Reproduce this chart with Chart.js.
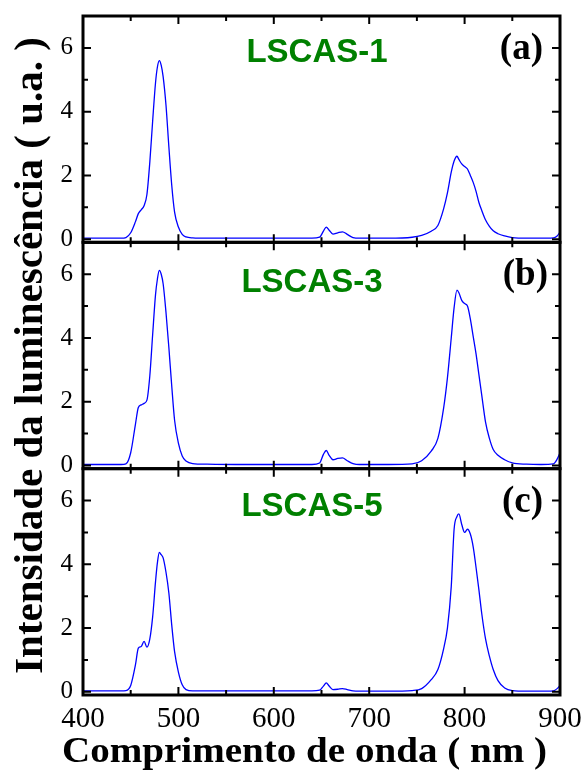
<!DOCTYPE html>
<html>
<head>
<meta charset="utf-8">
<script src="https://cdn.jsdelivr.net/npm/chart.js@4/dist/chart.umd.min.js"></script>
<style>
  html, body { margin: 0; padding: 0; background: #fff; }
  canvas { display: block; }
</style>
</head>
<body>
<canvas id="spectra" width="584" height="771"></canvas>
<script>
// wavelength (nm) shared by the three spectra
const wavelength = [400, 420, 440, 445, 450, 455, 458, 461, 464, 467,
  470, 473, 476, 478, 480, 482, 484, 487, 490, 493,
  496, 500, 504, 508, 515, 530, 560, 600, 640, 648,
  652, 655, 658, 662, 667, 672, 677, 683, 690, 720,
  745, 755, 765, 772, 778, 782, 786, 789, 792, 794,
  797, 800, 803, 806, 809, 812, 815, 818, 822, 826,
  830, 835, 842, 850, 865, 880, 893, 897, 900];

// luminescence intensity (a.u.)
const lscas1 = [0.03, 0.03, 0.03, 0.05, 0.2, 0.55, 0.8, 0.92, 1.05, 1.4,
  2.4, 3.7, 4.9, 5.4, 5.6, 5.45, 5.1, 4.2, 2.9, 1.7,
  0.85, 0.38, 0.15, 0.07, 0.04, 0.03, 0.03, 0.03, 0.03, 0.06,
  0.25, 0.38, 0.28, 0.16, 0.2, 0.23, 0.15, 0.05, 0.03, 0.03,
  0.06, 0.12, 0.25, 0.43, 0.95, 1.45, 2.1, 2.45, 2.6, 2.5,
  2.36, 2.28, 2.2, 2.0, 1.78, 1.5, 1.15, 0.9, 0.6, 0.4,
  0.26, 0.17, 0.1, 0.05, 0.03, 0.03, 0.04, 0.1, 0.22];

const lscas3 = [0.03, 0.03, 0.03, 0.05, 0.4, 1.3, 1.82, 1.9, 1.95, 2.05,
  2.8, 4.1, 5.35, 5.85, 6.12, 6.0, 5.7, 4.8, 3.7, 2.5,
  1.42, 0.7, 0.3, 0.14, 0.06, 0.04, 0.03, 0.03, 0.03, 0.08,
  0.35, 0.47, 0.32, 0.18, 0.22, 0.24, 0.15, 0.06, 0.03, 0.03,
  0.05, 0.15, 0.45, 0.85, 1.8, 2.75, 4.0, 4.95, 5.5, 5.42,
  5.18, 5.08, 5.0, 4.6, 4.05, 3.5, 2.85, 2.2, 1.35, 0.85,
  0.5, 0.32, 0.18, 0.08, 0.04, 0.03, 0.05, 0.2, 0.4];

const lscas5 = [0.03, 0.03, 0.03, 0.04, 0.2, 0.85, 1.37, 1.42, 1.58, 1.4,
  1.65, 2.35, 3.45, 4.05, 4.37, 4.3, 4.2, 3.75, 3.1, 2.1,
  1.26, 0.62, 0.22, 0.07, 0.03, 0.03, 0.03, 0.03, 0.03, 0.05,
  0.18, 0.28, 0.18, 0.07, 0.08, 0.1, 0.07, 0.03, 0.02, 0.02,
  0.04, 0.1, 0.38, 0.7, 1.35, 2.0, 3.3, 5.1, 5.5, 5.58,
  5.25, 5.0, 5.1, 4.95, 4.55, 3.9, 3.2, 2.45, 1.65, 1.12,
  0.7, 0.35, 0.12, 0.04, 0.02, 0.02, 0.03, 0.1, 0.2];

const panelNames = ['LSCAS-1', 'LSCAS-3', 'LSCAS-5'];
const panelLetters = ['(a)', '(b)', '(c)'];
const xTicks = [400, 500, 600, 700, 800, 900];
const xMinorTicks = [450, 550, 650, 750, 850];
const yTicks = [0, 2, 4, 6];
const yMinorTicks = [1, 3, 5];

const xTitle = 'Comprimento de onda ( nm )';
const yTitle = 'Intensidade da luminescência ( u.a. )';

const panelIds = ['yA', 'yB', 'yC'];
const series = [lscas1, lscas3, lscas5];

// label placement inside each panel (offsets from the panel top)
const nameX = [317, 312, 312], nameDy = [46, 50, 47];
const letterX = [543, 548, 543], letterDy = [43, 43, 43];

const serif = '"Liberation Serif", "Times New Roman", serif';

const framePlugin = {
  id: 'frame',
  afterDatasetsDraw(chart) {
    const ctx = chart.ctx;
    const { left, right } = chart.chartArea;
    const xs = chart.scales.x;
    ctx.save();
    ctx.strokeStyle = '#000';
    panelIds.forEach((id, i) => {
      const s = chart.scales[id];
      ctx.lineWidth = 3;
      ctx.strokeRect(left, s.top, right - left, s.bottom - s.top);

      ctx.lineWidth = 2;
      ctx.beginPath();
      const yMark = (v, len) => {
        const py = s.getPixelForValue(v);
        ctx.moveTo(left, py); ctx.lineTo(left + len, py);
        ctx.moveTo(right, py); ctx.lineTo(right - len, py);
      };
      const xMark = (v, len) => {
        const px = xs.getPixelForValue(v);
        ctx.moveTo(px, s.top); ctx.lineTo(px, s.top + len);
        ctx.moveTo(px, s.bottom); ctx.lineTo(px, s.bottom - len);
      };
      yTicks.forEach(v => yMark(v, 8));
      yMinorTicks.forEach(v => yMark(v, 5));
      xTicks.forEach(v => xMark(v, 8));
      xMinorTicks.forEach(v => xMark(v, 5));
      ctx.stroke();

      ctx.textBaseline = 'alphabetic';
      ctx.fillStyle = 'rgb(0,128,0)';
      ctx.font = 'bold 33px "Liberation Sans", Arial, sans-serif';
      ctx.textAlign = 'center';
      ctx.fillText(panelNames[i], nameX[i], s.top + nameDy[i]);

      ctx.fillStyle = '#000';
      ctx.font = 'bold 37px ' + serif;
      ctx.textAlign = 'right';
      ctx.fillText(panelLetters[i], letterX[i], s.top + letterDy[i]);
    });

    // x axis title, stretched a little like the original
    ctx.font = 'bold 36px ' + serif;
    ctx.fillStyle = '#000';
    ctx.textAlign = 'center';
    ctx.textBaseline = 'alphabetic';
    const w = ctx.measureText(xTitle).width;
    ctx.translate(304.5, 762);
    ctx.scale(485 / w, 1);
    ctx.fillText(xTitle, 0, 0);
    ctx.restore();
  }
};

function yAxis(weight, withTitle) {
  return {
    type: 'linear',
    position: 'left',
    stack: 'panels',
    stackWeight: 1,
    weight: weight,
    min: -0.1,
    max: 7,
    afterBuildTicks: s => { s.ticks = yTicks.map(v => ({ value: v })); },
    afterFit: s => { s.width = 83; s.paddingTop = 0; s.paddingBottom = 0; },
    grid: { display: false, drawTicks: false },
    border: { display: false },
    ticks: { color: '#000', padding: 10, font: { family: serif, size: 25 } },
    title: {
      display: withTitle,
      text: yTitle,
      color: '#000',
      padding: { top: 10.5, bottom: 0 },
      font: { family: serif, size: 41, weight: 'bold', lineHeight: 1 }
    }
  };
}

const ctx = document.getElementById('spectra').getContext('2d');
new Chart(ctx, {
  type: 'line',
  data: {
    datasets: series.map((vals, i) => ({
      label: panelNames[i],
      data: wavelength.map((w, j) => ({ x: w, y: vals[j] })),
      yAxisID: panelIds[i],
      borderColor: '#0000ff',
      borderWidth: 1.3,
      pointRadius: 0,
      fill: false,
      cubicInterpolationMode: 'monotone'
    }))
  },
  options: {
    responsive: false,
    animation: false,
    layout: { padding: { top: 16, right: 24, left: 0, bottom: 0 } },
    plugins: { legend: { display: false }, tooltip: { enabled: false } },
    scales: {
      x: {
        type: 'linear',
        min: 400,
        max: 900,
        afterBuildTicks: s => { s.ticks = xTicks.map(v => ({ value: v })); },
        afterFit: s => { s.height = 76; s.paddingLeft = 0; s.paddingRight = 0; },
        grid: { display: false, drawTicks: false },
        border: { display: false },
        ticks: { color: '#000', padding: 7, maxRotation: 0, autoSkip: false, font: { family: serif, size: 29 } }
      },
      yA: yAxis(3, false),
      yB: yAxis(2, true),
      yC: yAxis(1, false)
    }
  },
  plugins: [framePlugin]
});
</script>
</body>
</html>
